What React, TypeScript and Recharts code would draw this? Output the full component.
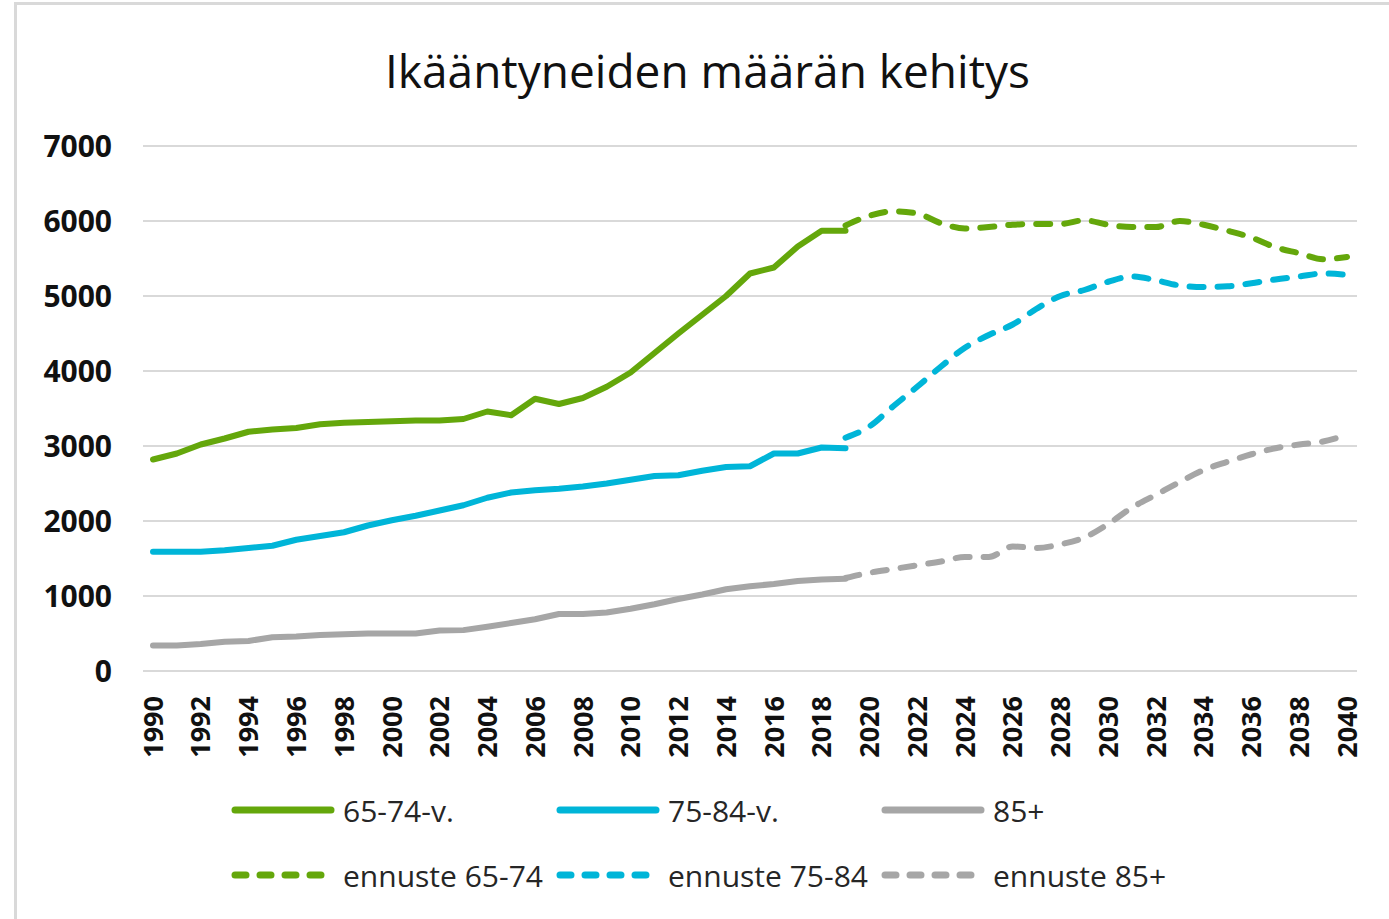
import { LineChart, Line, XAxis, YAxis, CartesianGrid, Legend } from 'recharts'

const years = [
  1990, 1991, 1992, 1993, 1994, 1995, 1996, 1997, 1998, 1999,
  2000, 2001, 2002, 2003, 2004, 2005, 2006, 2007, 2008, 2009,
  2010, 2011, 2012, 2013, 2014, 2015, 2016, 2017, 2018, 2019,
  2020, 2021, 2022, 2023, 2024, 2025, 2026, 2027, 2028, 2029,
  2030, 2031, 2032, 2033, 2034, 2035, 2036, 2037, 2038, 2039, 2040,
]

// toteutunut 1990-2019
const age65to74 = [
  2820, 2900, 3020, 3100, 3190, 3220, 3240, 3290, 3310, 3320,
  3330, 3340, 3340, 3360, 3460, 3410, 3630, 3560, 3640, 3790,
  3980, 4240, 4500, 4750, 5000, 5300, 5380, 5660, 5870, 5870,
]
const age75to84 = [
  1590, 1590, 1590, 1610, 1640, 1670, 1750, 1800, 1850, 1940,
  2010, 2070, 2140, 2210, 2310, 2380, 2410, 2430, 2460, 2500,
  2550, 2600, 2610, 2670, 2720, 2730, 2900, 2900, 2980, 2970,
]
const age85plus = [
  340, 340, 360, 390, 400, 450, 460, 480, 490, 500,
  500, 500, 540, 545, 590, 640, 690, 760, 760, 780,
  830, 890, 960, 1020, 1090, 1130, 1160, 1200, 1220, 1230,
]

// ennuste 2019-2040
const forecast65to74 = [
  5940, 6070, 6130, 6100, 5970, 5900, 5920, 5950, 5960, 5960,
  6010, 5950, 5920, 5920, 6000, 5950, 5870, 5780, 5650, 5570,
  5490, 5520,
]
const forecast75to84 = [
  3110, 3260, 3530, 3790, 4060, 4310, 4480, 4620, 4830, 5000,
  5080, 5190, 5260, 5210, 5140, 5120, 5130, 5170, 5220, 5260,
  5300, 5280,
]
const forecast85plus = [
  1240, 1310, 1360, 1410, 1460, 1520, 1520, 1660, 1640, 1690,
  1780, 1960, 2180, 2350, 2520, 2680, 2790, 2890, 2970, 3020,
  3060, 3150,
]

const xTicks = years.filter(y => y % 2 === 0)
const yTicks = [0, 1000, 2000, 3000, 4000, 5000, 6000, 7000]

const GREEN = '#64a70b'
const BLUE = '#00b5d8'
const GRAY = '#a6a6a6'
const FONT = '"Open Sans", "Noto Sans", sans-serif'

const FORECAST_START = 2019

const data = years.map((year, i) => {
  const f = year - FORECAST_START
  return {
    year,
    a: i < age65to74.length ? age65to74[i] : undefined,
    b: i < age75to84.length ? age75to84[i] : undefined,
    c: i < age85plus.length ? age85plus[i] : undefined,
    fa: f >= 0 ? forecast65to74[f] : undefined,
    fb: f >= 0 ? forecast75to84[f] : undefined,
    fc: f >= 0 ? forecast85plus[f] : undefined,
  }
})

const series = [
  { key: 'a', name: '65-74-v.', color: GREEN, dashed: false },
  { key: 'b', name: '75-84-v.', color: BLUE, dashed: false },
  { key: 'c', name: '85+', color: GRAY, dashed: false },
  { key: 'fa', name: 'ennuste 65-74', color: GREEN, dashed: true },
  { key: 'fb', name: 'ennuste 75-84', color: BLUE, dashed: true },
  { key: 'fc', name: 'ennuste 85+', color: GRAY, dashed: true },
]

function YearTick({ x, y, payload }: any) {
  return (
    <g transform={`translate(${x},${y})`}>
      <text
        x={-17}
        y={0}
        dy="0.36em"
        transform="rotate(-90)"
        textAnchor="end"
        fontFamily={FONT}
        fontWeight={700}
        fontSize={27}
        fill="#111"
      >
        {payload.value}
      </text>
    </g>
  )
}

function ChartLegend() {
  return (
    <div style={{ position: 'relative', width: 1389, height: 110 }}>
      {series.map((s, i) => {
        const col = i % 3
        const row = Math.floor(i / 3)
        return (
          <div
            key={s.key}
            style={{ position: 'absolute', left: 230 + col * 325, top: row * 65, height: 40, display: 'flex', alignItems: 'center' }}
          >
            <svg width={106} height={40}>
              <line
                x1={5}
                y1={20}
                x2={101}
                y2={20}
                stroke={s.color}
                strokeWidth={7}
                strokeLinecap="round"
                strokeDasharray={s.dashed ? '11 14' : undefined}
              />
            </svg>
            <span style={{ marginLeft: 7, fontFamily: FONT, fontSize: 30, color: '#262626', whiteSpace: 'nowrap' }}>
              {s.name}
            </span>
          </div>
        )
      })}
    </div>
  )
}

export default function App() {
  return (
    <div style={{ position: 'relative', width: 1389, height: 919, background: '#fff', overflow: 'hidden' }}>
      <style>{'body{margin:0}'}</style>
      <div
        style={{
          position: 'absolute', left: 14, top: 2, width: 1400, height: 940,
          border: '3px solid #d9d9d9', boxSizing: 'border-box',
        }}
      />
      <div
        style={{
          position: 'absolute', left: 0, top: 42, width: 1415, textAlign: 'center',
          fontFamily: FONT, fontSize: 46, lineHeight: '56px', color: '#111',
        }}
      >
        Ikääntyneiden määrän kehitys
      </div>
      <div style={{ position: 'absolute', left: 0, top: 0 }}>
        <LineChart
          width={1389}
          height={919}
          data={data}
          margin={{ top: 146, right: 32, left: 43, bottom: 158 }}
        >
          <CartesianGrid vertical={false} stroke="#d9d9d9" strokeWidth={2} />
          <XAxis
            dataKey="year"
            type="number"
            domain={[1990, 2040]}
            ticks={xTicks}
            interval={0}
            padding={{ left: 10, right: 10 }}
            axisLine={false}
            tickLine={false}
            height={90}
            tick={<YearTick />}
          />
          <YAxis
            domain={[0, 7000]}
            ticks={yTicks}
            interval={0}
            width={100}
            axisLine={false}
            tickLine={false}
            tickMargin={25}
            tick={{ fontFamily: FONT, fontWeight: 700, fontSize: 30, fill: '#111' }}
          />
          <Legend
            layout="horizontal"
            align="center"
            verticalAlign="middle"
            wrapperStyle={{ position: 'absolute', top: 790, left: 0, width: 1389 }}
            content={() => <ChartLegend />}
          />
          {series.map(s => (
            <Line
              key={s.key}
              dataKey={s.key}
              name={s.name}
              type={s.dashed ? 'monotone' : 'linear'}
              stroke={s.color}
              strokeWidth={6}
              strokeLinecap="round"
              strokeLinejoin="round"
              strokeDasharray={s.dashed ? '14 14' : undefined}
              dot={false}
              activeDot={false}
              isAnimationActive={false}
            />
          ))}
        </LineChart>
      </div>
    </div>
  )
}
